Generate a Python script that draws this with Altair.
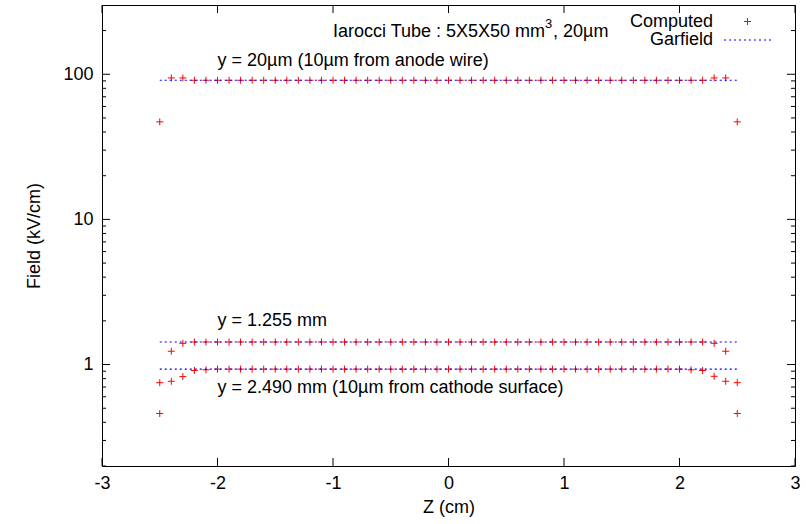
import altair as alt
import pandas as pd

# ---------------- data ----------------
z_cm = [-2.5, -2.4, -2.3, -2.2, -2.1, -2.0, -1.9, -1.8, -1.7, -1.6,
        -1.5, -1.4, -1.3, -1.2, -1.1, -1.0, -0.9, -0.8, -0.7, -0.6,
        -0.5, -0.4, -0.3, -0.2, -0.1, 0.0, 0.1, 0.2, 0.3, 0.4,
        0.5, 0.6, 0.7, 0.8, 0.9, 1.0, 1.1, 1.2, 1.3, 1.4,
        1.5, 1.6, 1.7, 1.8, 1.9, 2.0, 2.1, 2.2, 2.3, 2.4, 2.5]

field_anode_20um = [47.0, 94.3, 94.3, 90.9, 90.9, 90.9, 90.9, 90.9, 90.9, 90.9,
                    90.9, 90.9, 90.9, 90.9, 90.9, 90.9, 90.9, 90.9, 90.9, 90.9,
                    90.9, 90.9, 90.9, 90.9, 90.9, 90.9, 90.9, 90.9, 90.9, 90.9,
                    90.9, 90.9, 90.9, 90.9, 90.9, 90.9, 90.9, 90.9, 90.9, 90.9,
                    90.9, 90.9, 90.9, 90.9, 90.9, 90.9, 90.9, 90.9, 94.3, 94.3, 47.0]

field_mid_1255mm = [0.46, 1.235, 1.40, 1.43, 1.43, 1.43, 1.43, 1.43, 1.43, 1.43,
                    1.43, 1.43, 1.43, 1.43, 1.43, 1.43, 1.43, 1.43, 1.43, 1.43,
                    1.43, 1.43, 1.43, 1.43, 1.43, 1.43, 1.43, 1.43, 1.43, 1.43,
                    1.43, 1.43, 1.43, 1.43, 1.43, 1.43, 1.43, 1.43, 1.43, 1.43,
                    1.43, 1.43, 1.43, 1.43, 1.43, 1.43, 1.43, 1.43, 1.40, 1.235, 0.46]

field_cathode_2490mm = [0.75, 0.767, 0.826, 0.91, 0.92, 0.93, 0.93, 0.93, 0.93, 0.93,
                        0.93, 0.93, 0.93, 0.93, 0.93, 0.93, 0.93, 0.93, 0.93, 0.93,
                        0.93, 0.93, 0.93, 0.93, 0.93, 0.93, 0.93, 0.93, 0.93, 0.93,
                        0.93, 0.93, 0.93, 0.93, 0.93, 0.93, 0.93, 0.93, 0.93, 0.93,
                        0.93, 0.93, 0.93, 0.93, 0.93, 0.93, 0.92, 0.91, 0.83, 0.767, 0.75]

garfield_z = [-2.5, 2.5]
garfield_anode_20um = [90.9, 90.9]
garfield_mid_1255mm = [1.43, 1.43]
garfield_cathode_2490mm = [0.93, 0.93]

x_major_ticks = [-3, -2, -1, 0, 1, 2, 3]
y_major_ticks = [1, 10, 100]
y_minor_ticks = [0.2, 0.3, 0.4, 0.5, 0.6, 0.7, 0.8, 0.9,
                 2, 3, 4, 5, 6, 7, 8, 9,
                 20, 30, 40, 50, 60, 70, 80, 90, 200]

ann_text = ["y = 20\u00b5m (10\u00b5m from anode wire)",
            "y = 1.255 mm",
            "y = 2.490 mm (10\u00b5m from cathode surface)"]
ann_z = [-2.0, -2.0, -2.0]
ann_field = [123, 1.98, 0.694]

title_main = "Iarocci Tube : 5X5X50 mm"
title_sup = "3"
title_tail = ", 20\u00b5m"

# ---------------- tables ----------------
computed = pd.DataFrame({
    "z": z_cm * 3,
    "field": field_anode_20um + field_mid_1255mm + field_cathode_2490mm,
    "series": ["anode"] * len(z_cm) + ["mid"] * len(z_cm) + ["cathode"] * len(z_cm),
})
garfield = pd.DataFrame({
    "z": garfield_z * 3,
    "field": garfield_anode_20um + garfield_mid_1255mm + garfield_cathode_2490mm,
    "series": ["anode"] * 2 + ["mid"] * 2 + ["cathode"] * 2,
})
xt = pd.DataFrame({"z": x_major_ticks})
ytM = pd.DataFrame({"field": y_major_ticks})
ytm = pd.DataFrame({"field": y_minor_ticks})
ann = pd.DataFrame({"z": ann_z, "field": ann_field, "label": ann_text})
one = pd.DataFrame({"k": [0]})

W, H = 693, 461
FONT = "Liberation Sans"
FS = 18
RED = "#ff0000"
BLUE = "#0000ff"

xscale = alt.Scale(domain=[-3, 3], nice=False, zero=False)
yscale = alt.Scale(type="log", domain=[0.2, 300], nice=False)

x_axis = alt.Axis(values=x_major_ticks, title="Z (cm)", ticks=False, grid=False,
                  domain=False, labelExpr="'' + datum.value",
                  labelFont=FONT, labelFontSize=FS, labelColor="black",
                  labelPadding=8, labelFlush=False, titleFont=FONT, titleFontSize=FS,
                  titleFontWeight="normal", titleColor="black", titlePadding=6)
y_axis = alt.Axis(values=y_major_ticks, labelExpr="'' + datum.value",
                  title="Field (kV/cm)", ticks=False,
                  grid=False, domain=False, labelFont=FONT, labelFontSize=FS,
                  labelColor="black", labelPadding=9, labelFlush=False, titleFont=FONT,
                  titleFontSize=FS, titleFontWeight="normal", titleColor="black",
                  titlePadding=19)

X = alt.X("z:Q", scale=xscale, axis=x_axis)
Y = alt.Y("field:Q", scale=yscale, axis=y_axis)

plus_shape = "M-1,0L1,0M0,-1L0,1"

points = alt.Chart(computed).mark_point(
    shape=plus_shape, size=49, filled=False, strokeWidth=1, opacity=1
).encode(x=X, y=Y, detail="series:N", stroke=alt.value(RED))

lines = alt.Chart(garfield).mark_line(
    color=BLUE, strokeWidth=1.2, strokeDash=[2, 3]
).encode(x=X, y=Y, detail="series:N")

tick_col = "black"
xt_bottom = alt.Chart(xt).mark_rule(color=tick_col, strokeWidth=1).encode(
    x=X, y=alt.value(H), y2=alt.value(H - 8))
xt_top = alt.Chart(xt).mark_rule(color=tick_col, strokeWidth=1).encode(
    x=X, y=alt.value(0), y2=alt.value(8))
yM_left = alt.Chart(ytM).mark_rule(color=tick_col, strokeWidth=1).encode(
    y=Y, x=alt.value(0), x2=alt.value(8))
yM_right = alt.Chart(ytM).mark_rule(color=tick_col, strokeWidth=1).encode(
    y=Y, x=alt.value(W), x2=alt.value(W - 8))
ym_left = alt.Chart(ytm).mark_rule(color=tick_col, strokeWidth=1).encode(
    y=Y, x=alt.value(0), x2=alt.value(4))
ym_right = alt.Chart(ytm).mark_rule(color=tick_col, strokeWidth=1).encode(
    y=Y, x=alt.value(W), x2=alt.value(W - 4))

annotations = alt.Chart(ann).mark_text(
    align="left", baseline="middle", font=FONT, fontSize=FS, color="black"
).encode(x=X, y=Y, text="label:N")

title_a = alt.Chart(one).mark_text(
    align="left", baseline="middle", font=FONT, fontSize=FS, color="black",
    text=title_main
).encode(x=alt.value(231), y=alt.value(27))
title_b = alt.Chart(one).mark_text(
    align="left", baseline="middle", font=FONT, fontSize=13, color="black",
    text=title_sup
).encode(x=alt.value(443), y=alt.value(19))
title_c = alt.Chart(one).mark_text(
    align="left", baseline="middle", font=FONT, fontSize=FS, color="black",
    text=title_tail
).encode(x=alt.value(451), y=alt.value(27))

leg_text1 = alt.Chart(one).mark_text(
    align="right", baseline="middle", font=FONT, fontSize=FS, color="black",
    text="Computed"
).encode(x=alt.value(611), y=alt.value(17))
leg_text2 = alt.Chart(one).mark_text(
    align="right", baseline="middle", font=FONT, fontSize=FS, color="black",
    text="Garfield"
).encode(x=alt.value(611), y=alt.value(35))
leg_plus_h = alt.Chart(one).mark_rule(color=RED, strokeWidth=1).encode(
    x=alt.value(642), x2=alt.value(649), y=alt.value(16.5))
leg_plus_v = alt.Chart(one).mark_rule(color=RED, strokeWidth=1).encode(
    x=alt.value(645.5), y=alt.value(13), y2=alt.value(20))
leg_line = alt.Chart(one).mark_rule(
    color=BLUE, strokeWidth=1.2, strokeDash=[2, 3]
).encode(x=alt.value(622), x2=alt.value(670), y=alt.value(35))

chart = alt.layer(
    points, lines, xt_bottom, xt_top, yM_left, yM_right, ym_left, ym_right,
    annotations, title_a, title_b, title_c, leg_text1, leg_text2,
    leg_plus_h, leg_plus_v, leg_line
).properties(
    width=W, height=H,
    autosize=alt.AutoSizeParams(type="none"),
    padding={"left": 102, "top": 5, "right": 11, "bottom": 58},
    background="white",
).configure_view(stroke="black", strokeWidth=1)

chart.save("out.html", embed_options={"renderer": "svg", "actions": False})
